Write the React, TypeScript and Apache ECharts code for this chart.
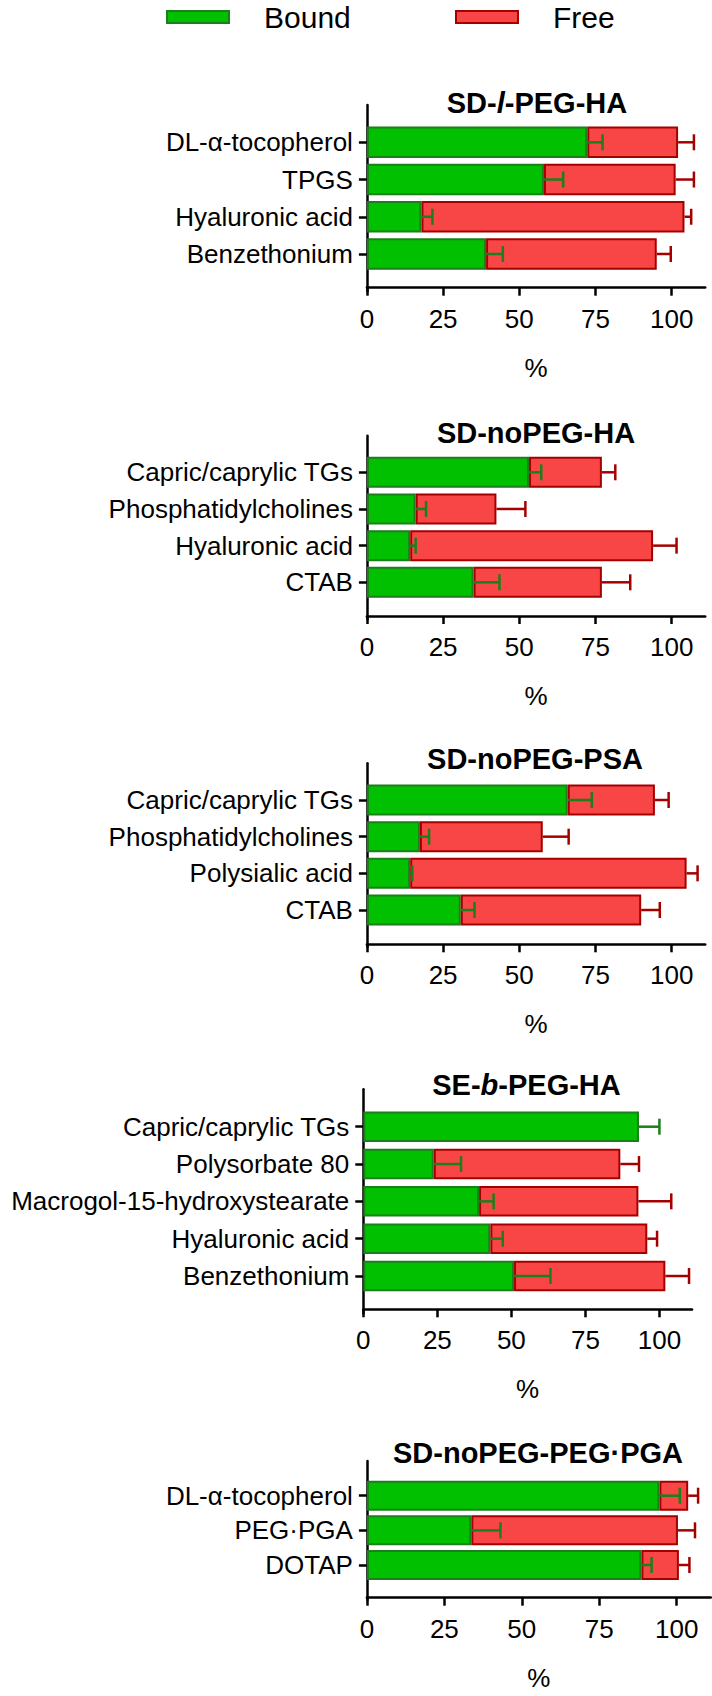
import React, { useEffect, useRef } from "react";
import * as echarts from "echarts";

const FONT = "'Liberation Sans', Arial, Helvetica, sans-serif";

// ---------- data ----------
const seriesNames = ["Bound", "Free"];
const xTickValues = [0, 25, 50, 75, 100];
const xMax = 111;
const axisName = "%";

// Panel 1: SD-l-PEG-HA
const p1Title = "SD-{i|l}-PEG-HA";
const p1Categories = ["DL-α-tocopherol", "TPGS", "Hyaluronic acid", "Benzethonium"];
const p1Bound = [72.3, 58.1, 17.9, 39.1];
const p1BoundSD = [5.0, 6.3, 3.6, 5.5];
const p1Free = [29.8, 43.2, 86.3, 56.0];
const p1FreeSD = [5.2, 6.0, 2.2, 4.6];

// Panel 2: SD-noPEG-HA
const p2Title = "SD-noPEG-HA";
const p2Categories = ["Capric/caprylic TGs", "Phosphatidylcholines", "Hyaluronic acid", "CTAB"];
const p2Bound = [53.2, 16.0, 14.2, 35.0];
const p2BoundSD = [4.0, 3.4, 1.8, 8.5];
const p2Free = [23.9, 26.5, 79.7, 42.1];
const p2FreeSD = [4.4, 9.5, 7.7, 9.3];

// Panel 3: SD-noPEG-PSA
const p3Title = "SD-noPEG-PSA";
const p3Categories = ["Capric/caprylic TGs", "Phosphatidylcholines", "Polysialic acid", "CTAB"];
const p3Bound = [65.9, 17.4, 14.2, 30.8];
const p3BoundSD = [7.9, 3.0, 0.7, 4.5];
const p3Free = [28.6, 40.3, 90.7, 59.2];
const p3FreeSD = [4.5, 8.5, 3.6, 6.1];

// Panel 4: SE-b-PEG-HA
const p4Title = "SE-{i|b}-PEG-HA";
const p4Categories = [
  "Capric/caprylic TGs",
  "Polysorbate 80",
  "Macrogol-15-hydroxystearate",
  "Hyaluronic acid",
  "Benzethonium",
];
const p4Bound = [93.1, 23.8, 39.1, 42.9, 50.9];
const p4BoundSD = [6.9, 9.2, 4.9, 4.2, 12.3];
const p4Free = [0, 63.0, 53.8, 53.0, 51.1];
const p4FreeSD = [0, 6.3, 11.1, 3.3, 8.0];

// Panel 5: SD-noPEG-PEG·PGA
const p5Title = "SD-noPEG-PEG·PGA";
const p5Categories = ["DL-α-tocopherol", "PEG·PGA", "DOTAP"];
const p5Bound = [94.4, 33.7, 88.6];
const p5BoundSD = [6.6, 9.4, 3.3];
const p5Free = [9.3, 66.7, 12.1];
const p5FreeSD = [3.2, 5.5, 3.4];

// ---------- styles / layout ----------
const GREEN = "#00c000";
const GREEN_DARK = "#1b7f1b";
const RED = "#f84545";
const RED_DARK = "#a50000";

const panels = [
  { title: p1Title, cats: p1Categories, bound: p1Bound, boundSD: p1BoundSD, free: p1Free, freeSD: p1FreeSD },
  { title: p2Title, cats: p2Categories, bound: p2Bound, boundSD: p2BoundSD, free: p2Free, freeSD: p2FreeSD },
  { title: p3Title, cats: p3Categories, bound: p3Bound, boundSD: p3BoundSD, free: p3Free, freeSD: p3FreeSD },
  { title: p4Title, cats: p4Categories, bound: p4Bound, boundSD: p4BoundSD, free: p4Free, freeSD: p4FreeSD },
  { title: p5Title, cats: p5Categories, bound: p5Bound, boundSD: p5BoundSD, free: p5Free, freeSD: p5FreeSD },
];

const layouts = [
  { c1: 142.3, step: 37.23, axisY: 287.7, left: 366.9, width: 338.3, titleX: 537, titleY: 104, barW: 31.5 },
  { c1: 472.3, step: 36.67, axisY: 616, left: 366.9, width: 338.3, titleX: 536, titleY: 434, barW: 31 },
  { c1: 800, step: 36.67, axisY: 944.3, left: 366.9, width: 338.3, titleX: 535, titleY: 760.7, barW: 31 },
  { c1: 1126.7, step: 37.33, axisY: 1309.3, left: 363.3, width: 328.7, titleX: 526.5, titleY: 1086.3, barW: 30.5 },
  { c1: 1495.7, step: 34.65, axisY: 1597.7, left: 366.9, width: 343.9, titleX: 538, titleY: 1454, barW: 30 },
];

const CAP = 16;
const LW = 2.5;

function errRender(color: string) {
  return (_params: any, api: any) => {
    const x0 = api.value(0);
    const y = api.value(1);
    const x1 = api.value(2);
    const p0 = api.coord([x0, y]);
    const p1 = api.coord([x1, y]);
    return {
      type: "group",
      children: [
        {
          type: "line",
          shape: { x1: p0[0], y1: p0[1], x2: p1[0], y2: p1[1] },
          style: { stroke: color, lineWidth: LW },
        },
        {
          type: "line",
          shape: { x1: p1[0], y1: p1[1] - CAP / 2, x2: p1[0], y2: p1[1] + CAP / 2 },
          style: { stroke: color, lineWidth: LW },
        },
      ],
    };
  };
}

function buildOption() {
  const grid: any[] = [];
  const xAxis: any[] = [];
  const yAxis: any[] = [];
  const series: any[] = [];
  const title: any[] = [];

  panels.forEach((p, k) => {
    const L = layouts[k];
    const n = p.cats.length;
    const top = L.c1 - L.step;
    const height = (n + 1) * L.step;
    const offset = L.axisY - (top + height);
    const padded = [" ", ...p.cats, "  "];

    grid.push({ left: L.left, top, width: L.width, height, containLabel: false, outerBoundsMode: "none" });

    xAxis.push({
      type: "value",
      gridIndex: k,
      min: 0,
      max: xMax,
      offset,
      name: axisName,
      nameLocation: "middle",
      nameGap: 67,
      nameTextStyle: { fontSize: 26, color: "#000", fontFamily: FONT },
      axisLine: { show: true, onZero: false, lineStyle: { color: "#000", width: LW } },
      axisTick: { show: true, length: 8, customValues: xTickValues, lineStyle: { color: "#000", width: LW } },
      axisLabel: { customValues: xTickValues, fontSize: 26, color: "#000", margin: 18, fontFamily: FONT },
      splitLine: { show: false },
    });

    yAxis.push({
      type: "category",
      gridIndex: k,
      data: padded,
      inverse: true,
      boundaryGap: false,
      axisLine: { show: true, onZero: false, lineStyle: { color: "#000", width: LW } },
      axisTick: {
        show: true,
        length: 8,
        interval: (_i: number, v: string) => v.trim() !== "",
        lineStyle: { color: "#000", width: LW },
      },
      axisLabel: { interval: 0, fontSize: 26, color: "#000", margin: 14, fontFamily: FONT },
      splitLine: { show: false },
    });

    const boundData = [null, ...p.bound, null];
    const freeData = [null, ...p.free.map((v) => (v > 0 ? v : null)), null];

    series.push({
      name: seriesNames[0],
      type: "bar",
      xAxisIndex: k,
      yAxisIndex: k,
      stack: "s" + k,
      barWidth: L.barW,
      data: boundData,
      itemStyle: { color: GREEN, borderColor: GREEN_DARK, borderWidth: 2 },
      z: 2,
    });
    series.push({
      name: seriesNames[1],
      type: "bar",
      xAxisIndex: k,
      yAxisIndex: k,
      stack: "s" + k,
      barWidth: L.barW,
      data: freeData,
      itemStyle: { color: RED, borderColor: RED_DARK, borderWidth: 2 },
      z: 2,
    });

    const errB: any[] = [];
    const errF: any[] = [];
    p.cats.forEach((_c, i) => {
      const b = p.bound[i];
      errB.push([b, i + 1, b + p.boundSD[i]]);
      if (p.free[i] > 0 && p.freeSD[i] > 0) {
        const t = b + p.free[i];
        errF.push([t, i + 1, t + p.freeSD[i]]);
      }
    });

    series.push({
      name: "errBound" + k,
      type: "custom",
      xAxisIndex: k,
      yAxisIndex: k,
      renderItem: errRender(GREEN_DARK),
      encode: { x: [0, 2], y: 1 },
      data: errB,
      clip: false,
      z: 5,
    });
    series.push({
      name: "errFree" + k,
      type: "custom",
      xAxisIndex: k,
      yAxisIndex: k,
      renderItem: errRender(RED_DARK),
      encode: { x: [0, 2], y: 1 },
      data: errF,
      clip: false,
      z: 5,
    });

    title.push({
      text: p.title,
      left: L.titleX,
      top: L.titleY - 16,
      textAlign: "center",
      padding: 0,
      textStyle: {
        fontSize: 29,
        fontWeight: "bold",
        color: "#000",
        fontFamily: FONT,
        rich: {
          i: { fontSize: 29, fontWeight: "bold", fontStyle: "italic", color: "#000", fontFamily: FONT },
        },
      },
    });
  });

  const legendCommon = {
    top: 2,
    padding: 0,
    icon: "rect",
    itemWidth: 62,
    itemHeight: 12,
    selectedMode: false,
    formatter: (name: string) => "{a|" + name + "}",
    textStyle: {
      fontSize: 30,
      color: "#000",
      fontFamily: FONT,
      rich: { a: { fontSize: 30, lineHeight: 32, color: "#000", fontFamily: FONT, padding: [0, 0, 0, 30] } },
    },
  };

  return {
    animation: false,
    backgroundColor: "#ffffff",
    textStyle: { fontFamily: FONT },
    title,
    legend: [
      { ...legendCommon, data: [seriesNames[0]], left: 166 },
      { ...legendCommon, data: [seriesNames[1]], left: 455 },
    ],
    grid,
    xAxis,
    yAxis,
    series,
  };
}

export default function App() {
  const ref = useRef<HTMLDivElement>(null);
  useEffect(() => {
    if (!ref.current) return;
    const chart = echarts.init(ref.current, null, { renderer: "svg" });
    chart.setOption(buildOption() as any);
    return () => chart.dispose();
  }, []);
  return (
    <div
      ref={ref}
      style={{ position: "absolute", left: 0, top: 0, width: 712, height: 1696, background: "#fff" }}
    />
  );
}
